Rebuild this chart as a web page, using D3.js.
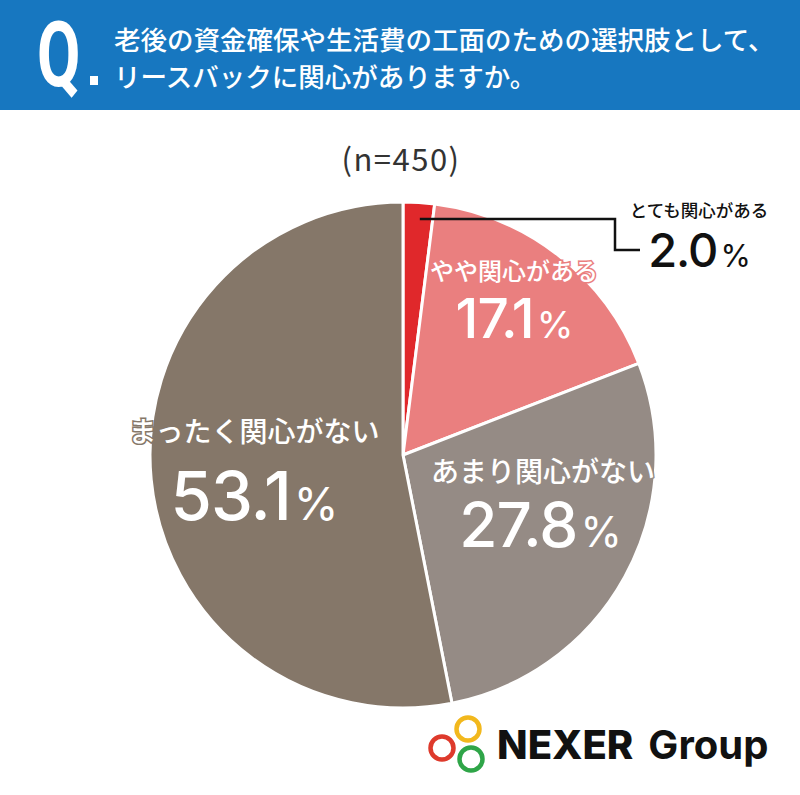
<!DOCTYPE html>
<html>
<head>
<meta charset="utf-8">
<script src="https://cdn.jsdelivr.net/npm/d3@7"></script>
<style>
  body { margin: 0; background: #fff; }
  svg { display: block; font-family: "Noto Sans CJK JP", "Noto Sans", sans-serif; }
</style>
</head>
<body>
<div class="chart"></div>
<script>
// data
const categories = ['とても関心がある', 'やや関心がある', 'あまり関心がない', 'まったく関心がない'];
const values = [2.0, 17.1, 27.8, 53.1];
const colors = ['#e0282b', '#ea7f7f', '#958b85', '#857769'];
const titleLines = ['老後の資金確保や生活費の工面のための選択肢として、', 'リースバックに関心がありますか。'];
const sampleLabel = '(n=450)';

const width = 800;
const height = 795;
const cx = 403;
const cy = 455;
const radius = 253;

const svg = d3.select('.chart')
  .append('svg')
  .attr('width', width)
  .attr('height', height);

// header band
svg.append('rect')
  .attr('width', width)
  .attr('height', 110)
  .attr('fill', '#1777c0');

svg.append('text')
  .attr('transform', 'translate(37,86) scale(0.7,1)')
  .attr('fill', '#fff')
  .attr('font-size', 90)
  .attr('font-weight', 700)
  .attr('font-family', 'Roboto, sans-serif')
  .text('Q');

svg.append('rect')
  .attr('x', 90)
  .attr('y', 76)
  .attr('width', 8)
  .attr('height', 9)
  .attr('fill', '#fff');

svg.selectAll('text.title')
  .data(titleLines)
  .enter().append('text')
  .attr('class', 'title')
  .attr('x', 114)
  .attr('y', (d, i) => 50 + i * 37)
  .attr('fill', '#fff')
  .attr('font-size', 26.5)
  .attr('font-weight', 500)
  .text((d) => d);

svg.append('text')
  .attr('x', 401)
  .attr('y', 171)
  .attr('text-anchor', 'middle')
  .attr('fill', '#333')
  .attr('font-size', 31)
  .attr('letter-spacing', 1.5)
  .text(sampleLabel);

// pie
const pie = d3.pie().sort(null).value((d) => d)(values);
const arc = d3.arc().innerRadius(0).outerRadius(radius);

const g = svg.append('g')
  .attr('transform', `translate(${cx},${cy})`);

g.selectAll('path.slice')
  .data(pie)
  .enter().append('path')
  .attr('class', 'slice')
  .attr('d', arc)
  .attr('fill', (d, i) => colors[i])
  .attr('stroke', '#fff')
  .attr('stroke-width', 3)
  .attr('stroke-linejoin', 'round');

// in-slice labels (slices 1..3)
const labelPos = [
  null,
  { x: 514, y: 280, ny: 338, nameSize: 24, numSize: 55 },
  { x: 540, y: 482, ny: 547, nameSize: 28, numSize: 62 },
  { x: 254, y: 442, ny: 520, nameSize: 28, numSize: 67 }
];

pie.forEach((d, i) => {
  const p = labelPos[i];
  if (!p) return;
  svg.append('text')
    .attr('x', i === 2 ? 543 : p.x)
    .attr('y', p.y)
    .attr('text-anchor', 'middle')
    .attr('fill', '#fff')
    .attr('stroke', colors[i])
    .attr('stroke-width', 3)
    .attr('paint-order', 'stroke')
    .attr('font-size', p.nameSize)
    .attr('font-weight', 500)
    .text(categories[i]);
  const t = svg.append('text')
    .attr('x', p.x)
    .attr('y', p.ny)
    .attr('text-anchor', 'middle')
    .attr('fill', '#fff')
    .attr('font-family', 'Inter, "Noto Sans", sans-serif')
    .attr('font-weight', 500)
    .attr('letter-spacing', -1)
    .attr('font-size', p.numSize);
  t.append('tspan').text(values[i].toFixed(1));
  t.append('tspan').attr('font-size', p.numSize * 0.68).attr('font-weight', 400).attr('dx', 3).text('%');
});

// leader for the small slice
const small = pie[0];
const mid = (small.startAngle + small.endAngle) / 2;
const sx = cx + Math.sin(mid) * (radius - 17) + 2;
const sy = 219;
svg.append('path')
  .attr('d', `M${sx},${sy} H615 V250 H640`)
  .attr('fill', 'none')
  .attr('stroke', '#111')
  .attr('stroke-width', 2.5);

svg.append('text')
  .attr('x', 699)
  .attr('y', 217)
  .attr('text-anchor', 'middle')
  .attr('fill', '#111')
  .attr('font-size', 17.5)
  .attr('font-weight', 500)
  .text(categories[0]);

const t0 = svg.append('text')
  .attr('x', 699)
  .attr('y', 267)
  .attr('text-anchor', 'middle')
  .attr('fill', '#111')
  .attr('font-family', 'Inter, "Noto Sans", sans-serif')
  .attr('font-weight', 500)
  .attr('letter-spacing', -1)
  .attr('font-size', 47);
t0.append('tspan').text(values[0].toFixed(1));
t0.append('tspan').attr('font-size', 31).attr('font-weight', 400).attr('dx', 3).text('%');

// logo
const rings = [
  { x: 442, y: 748, c: '#de3a2c' },
  { x: 468, y: 729, c: '#f2b81d' },
  { x: 471, y: 759, c: '#2fa548' }
];
svg.selectAll('circle.ring')
  .data(rings)
  .enter().append('circle')
  .attr('class', 'ring')
  .attr('cx', (d) => d.x)
  .attr('cy', (d) => d.y)
  .attr('r', 11.5)
  .attr('fill', 'none')
  .attr('stroke', (d) => d.c)
  .attr('stroke-width', 4.5);

svg.append('text')
  .attr('x', 497)
  .attr('y', 759)
  .attr('fill', '#111')
  .attr('font-family', 'Inter, "Noto Sans", sans-serif')
  .attr('font-size', 40)
  .attr('font-weight', 800)
  .text('NEXER')
  .append('tspan')
  .attr('font-weight', 700)
  .attr('dx', 15)
  .text('Group');
</script>
</body>
</html>
